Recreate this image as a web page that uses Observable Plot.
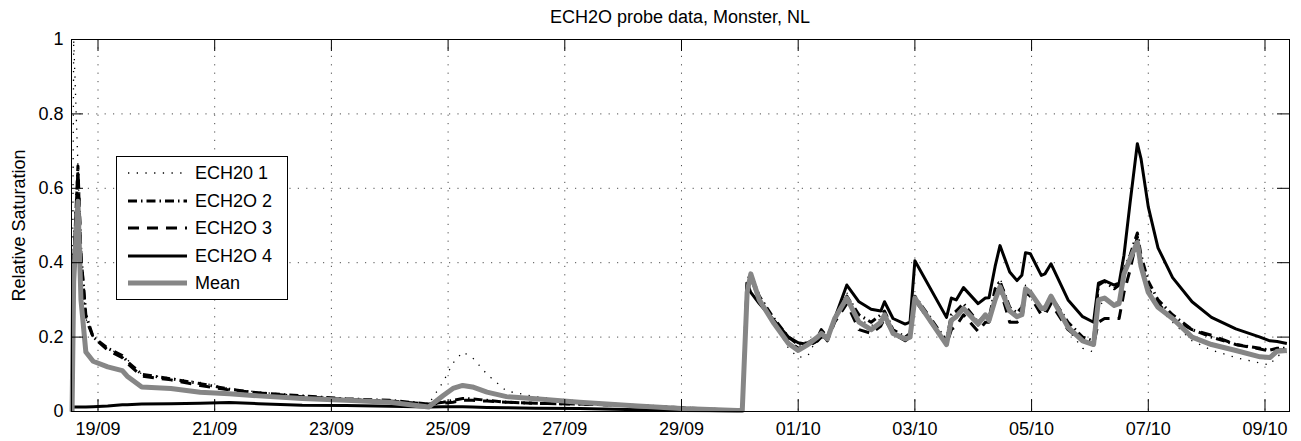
<!DOCTYPE html>
<html>
<head>
<meta charset="utf-8">
<script src="https://cdn.jsdelivr.net/npm/d3@7"></script>
<script src="https://cdn.jsdelivr.net/npm/@observablehq/plot@0.6"></script>
<style>
  body { margin: 0; background: #fff; font-family: "Liberation Sans", Arial, Helvetica, sans-serif; }
  #fig { position: relative; width: 1301px; height: 441px; }
  #title { box-sizing: border-box; height: 28px; padding: 7px 12px 0 71px; line-height: 20px;
           font-size: 18px; text-align: center; color: #000; }
  #legend { position: absolute; left: 116px; top: 156px; }
</style>
</head>
<body>
<div id="fig">
  <div id="title">ECH2O probe data, Monster, NL</div>
  <div id="chart"></div>
  <div id="legend"></div>
</div>
<script>
// Sample times (month-day hour:minute) shared by every probe series
const times = [
  "09-18 13:20","09-18 14:00","09-18 15:45","09-18 17:00","09-18 19:00","09-18 22:00",
  "09-19 04:00","09-19 10:00","09-19 12:00","09-19 18:00","09-20 06:00","09-20 18:00",
  "09-21 06:00","09-21 18:00","09-22 12:00","09-23 06:00","09-24 00:00","09-24 16:00",
  "09-24 22:00","09-25 02:00","09-25 06:00","09-25 10:00","09-25 16:00","09-26 00:00",
  "09-26 12:00","09-27 06:00","09-28 06:00","09-29 00:00","09-29 23:00",
  "09-30 01:00","09-30 03:00","09-30 04:30","09-30 08:00","09-30 14:00","09-30 20:00",
  "10-01 00:00","10-01 04:00","10-01 08:00","10-01 09:30","10-01 12:00","10-01 15:00","10-01 20:00",
  "10-02 01:00","10-02 06:00","10-02 10:00","10-02 11:30","10-02 15:00","10-02 20:00","10-02 22:00",
  "10-03 00:00","10-03 13:00","10-03 15:00","10-03 17:00","10-03 20:00",
  "10-04 02:00","10-04 05:00","10-04 06:30","10-04 09:00","10-04 11:00","10-04 15:00","10-04 18:00",
  "10-04 20:00","10-04 21:30","10-04 23:30",
  "10-05 04:00","10-05 05:30","10-05 08:00","10-05 15:00","10-05 21:00",
  "10-06 01:30","10-06 03:30","10-06 06:00","10-06 10:00","10-06 12:00","10-06 14:00","10-06 16:30",
  "10-06 19:30","10-06 21:00","10-07 00:00","10-07 04:00","10-07 10:00","10-07 18:00",
  "10-08 02:00","10-08 12:00","10-08 22:00","10-09 02:00","10-09 05:00","10-09 09:00"
];

// Relative saturation per probe
const probe1 = [
  0, 1.0, 0.66, 0.40, 0.25, 0.20,
  0.17, 0.15, 0.14, 0.10, 0.09, 0.078,
  0.062, 0.052, 0.042, 0.034, 0.028, 0.02,
  0.08, 0.13, 0.16, 0.145, 0.10, 0.055,
  0.04, 0.028, 0.018, 0.01, 0.003,
  0.003, 0.34, 0.36, 0.31, 0.24, 0.17,
  0.145, 0.15, 0.20, 0.22, 0.20, 0.24, 0.32,
  0.25, 0.23, 0.25, 0.27, 0.22, 0.19, 0.20,
  0.30, 0.175, 0.24, 0.25, 0.27,
  0.23, 0.25, 0.25, 0.32, 0.36, 0.28, 0.26,
  0.27, 0.34, 0.33,
  0.27, 0.27, 0.31, 0.22, 0.17,
  0.16, 0.28, 0.30, 0.29, 0.30, 0.36, 0.41,
  0.47, 0.40, 0.33, 0.28, 0.24, 0.19,
  0.165, 0.145, 0.13, 0.125, 0.15, 0.155
];
const probe2 = [
  0, 0.40, 0.66, 0.42, 0.26, 0.20,
  0.17, 0.15, 0.135, 0.10, 0.088, 0.075,
  0.06, 0.05, 0.042, 0.034, 0.03, 0.02,
  0.025, 0.03, 0.035, 0.034, 0.03, 0.025,
  0.022, 0.02, 0.016, 0.01, 0.003,
  0.003, 0.35, 0.37, 0.31, 0.25, 0.20,
  0.18, 0.185, 0.20, 0.22, 0.20, 0.25, 0.31,
  0.26, 0.24, 0.26, 0.27, 0.22, 0.20, 0.21,
  0.31, 0.19, 0.26, 0.27, 0.29,
  0.24, 0.26, 0.25, 0.33, 0.35, 0.28, 0.265,
  0.28, 0.33, 0.32,
  0.28, 0.28, 0.31, 0.24, 0.20,
  0.19, 0.34, 0.35, 0.33, 0.34, 0.38, 0.42,
  0.48, 0.42, 0.35, 0.30, 0.26, 0.22,
  0.20, 0.18, 0.17, 0.165, 0.17, 0.17
];
const probe3 = [
  0, 0.40, 0.65, 0.42, 0.25, 0.20,
  0.165, 0.145, 0.13, 0.095, 0.085, 0.07,
  0.058, 0.05, 0.04, 0.032, 0.028, 0.02,
  0.022, 0.025, 0.03, 0.03, 0.028, 0.025,
  0.022, 0.02, 0.016, 0.01, 0.003,
  0.003, 0.33, 0.36, 0.30, 0.24, 0.19,
  0.17, 0.175, 0.19, 0.21, 0.19, 0.24, 0.29,
  0.22, 0.21, 0.23, 0.25, 0.21, 0.19, 0.20,
  0.30, 0.18, 0.22, 0.23, 0.26,
  0.215, 0.24, 0.24, 0.30, 0.33, 0.24, 0.24,
  0.25, 0.32, 0.31,
  0.26, 0.26, 0.29, 0.22, 0.19,
  0.18, 0.24, 0.25, 0.25, 0.25, 0.32, 0.38,
  0.47, 0.40, 0.33, 0.29, 0.25, 0.22,
  0.205, 0.18, 0.168, 0.162, 0.165, 0.165
];
const probe4 = [
  0.01, 0.012, 0.012, 0.012, 0.012, 0.013,
  0.015, 0.018, 0.018, 0.02, 0.021, 0.022,
  0.024, 0.021, 0.017, 0.016, 0.014, 0.012,
  0.013, 0.013, 0.013, 0.012, 0.011, 0.01,
  0.009, 0.008, 0.005, 0.003, 0.002,
  0.003, 0.345, 0.32, 0.29, 0.245, 0.20,
  0.185, 0.18, 0.19, 0.20, 0.20, 0.25, 0.34,
  0.295, 0.275, 0.27, 0.295, 0.25, 0.235, 0.24,
  0.405, 0.253, 0.305, 0.30, 0.333,
  0.29, 0.305, 0.306, 0.39, 0.446, 0.375, 0.352,
  0.366, 0.427, 0.424,
  0.366, 0.37, 0.397, 0.30, 0.255,
  0.24, 0.345, 0.352, 0.34, 0.345, 0.42, 0.56,
  0.72, 0.68, 0.55, 0.44, 0.36, 0.295,
  0.253, 0.222, 0.20, 0.19, 0.188, 0.183
];
const probeMean = [
  0, 0.35, 0.565, 0.30, 0.16, 0.135,
  0.12, 0.11, 0.095, 0.066, 0.062, 0.052,
  0.048, 0.042, 0.035, 0.03, 0.025, 0.012,
  0.043, 0.062, 0.07, 0.066, 0.052, 0.04,
  0.034, 0.025, 0.015, 0.008, 0.003,
  0.003, 0.32, 0.37, 0.30, 0.237, 0.183,
  0.164, 0.18, 0.20, 0.21, 0.195, 0.25, 0.305,
  0.24, 0.22, 0.24, 0.26, 0.21, 0.195, 0.20,
  0.305, 0.18, 0.245, 0.255, 0.277,
  0.235, 0.26, 0.245, 0.30, 0.335, 0.27, 0.255,
  0.26, 0.33, 0.32,
  0.277, 0.277, 0.31, 0.226, 0.19,
  0.18, 0.30, 0.305, 0.285, 0.29, 0.37, 0.41,
  0.455, 0.39, 0.32, 0.28, 0.25, 0.20,
  0.18, 0.164, 0.147, 0.145, 0.162, 0.164
];

const seriesNames = ["ECH20 1", "ECH2O 2", "ECH2O 3", "ECH2O 4", "Mean"];
const seriesValues = [probe1, probe2, probe3, probe4, probeMean];

// Axis ticks
const xTickDays = ["09-19", "09-21", "09-23", "09-25", "09-27", "09-29",
                   "10-01", "10-03", "10-05", "10-07", "10-09"];
const yTicks = [0, 0.2, 0.4, 0.6, 0.8, 1];

const year = 2010;
const parseTime = s => new Date(`${year}-${s.replace(" ", "T")}:00Z`);
const xTicks = xTickDays.map(d => parseTime(d + " 00:00"));
const xDomain = [parseTime("09-18 13:06"), parseTime("10-09 10:05")];

// Line styles, in series order
const styles = [
  {stroke: "#000", strokeWidth: 1.3, strokeDasharray: "1.3,7.4"},
  {stroke: "#000", strokeWidth: 3, strokeDasharray: "9,4,1.5,4"},
  {stroke: "#000", strokeWidth: 3, strokeDasharray: "11,8"},
  {stroke: "#000", strokeWidth: 3},
  {stroke: "#868686", strokeWidth: 5}
];

const W = 1301, H = 413;
const M = {top: 11, right: 12, bottom: 30, left: 71};
const innerW = W - M.left - M.right, innerH = H - M.top - M.bottom;
const tickLen = 12;

const lineMarks = seriesNames.map((name, i) =>
  Plot.line(
    times.map((t, j) => ({time: parseTime(t), value: seriesValues[i][j], series: name})),
    {x: "time", y: "value", ...styles[i], strokeLinejoin: "round", strokeLinecap: "butt"}
  )
);

const gridStyle = {stroke: "#222", strokeOpacity: 0.8, strokeWidth: 1, strokeDasharray: "1.2,7.2"};

const chart = Plot.plot({
  width: W, height: H,
  marginTop: M.top, marginRight: M.right, marginBottom: M.bottom, marginLeft: M.left,
  style: {fontFamily: "'Liberation Sans', Arial, Helvetica, sans-serif", fontSize: "18px", color: "#000", background: "#fff", overflow: "visible"},
  x: {type: "utc", domain: xDomain},
  y: {domain: [0, 1]},
  marks: [
    Plot.gridX(xTicks, gridStyle),
    Plot.gridY(yTicks, gridStyle),
    ...lineMarks,
    Plot.frame({stroke: "#000", strokeWidth: 1}),
    // inward tick marks on all four sides
    Plot.tickX(xTicks, {x: d => d, insetTop: innerH - tickLen, stroke: "#000"}),
    Plot.tickX(xTicks, {x: d => d, insetBottom: innerH - tickLen, stroke: "#000"}),
    Plot.tickY(yTicks, {y: d => d, insetRight: innerW - tickLen, stroke: "#000"}),
    Plot.tickY(yTicks, {y: d => d, insetLeft: innerW - tickLen, stroke: "#000"}),
    Plot.axisX(xTicks, {tickSize: 0, tickPadding: 11, tickFormat: d3.utcFormat("%d/%m"), label: null, fontSize: 18}),
    Plot.axisY(yTicks, {tickSize: 0, tickPadding: 8, tickFormat: d3.format("~g"), fontSize: 18,
      label: "Relative Saturation", labelAnchor: "center", labelArrow: "none", labelOffset: 59})
  ]
});
document.getElementById("chart").appendChild(chart);

// Legend box
const lw = 171, lh = 143, rowY = [17, 45, 72, 100, 127];
const leg = d3.select("#legend").append("svg")
  .attr("width", lw + 1).attr("height", lh + 1)
  .style("display", "block")
  .style("font-family", "'Liberation Sans', Arial, Helvetica, sans-serif")
  .style("font-size", "18px");
leg.append("rect").attr("x", 0.5).attr("y", 0.5).attr("width", lw).attr("height", lh)
  .attr("fill", "#fff").attr("stroke", "#000").attr("stroke-width", 1);
seriesNames.forEach((name, i) => {
  const s = styles[i];
  leg.append("line")
    .attr("x1", 12).attr("x2", 71).attr("y1", rowY[i]).attr("y2", rowY[i])
    .attr("stroke", s.stroke).attr("stroke-width", s.strokeWidth)
    .attr("stroke-dasharray", s.strokeDasharray || null);
  leg.append("text").attr("x", 79).attr("y", rowY[i]).attr("dy", "0.35em")
    .attr("fill", "#000").text(name);
});
</script>
</body>
</html>
